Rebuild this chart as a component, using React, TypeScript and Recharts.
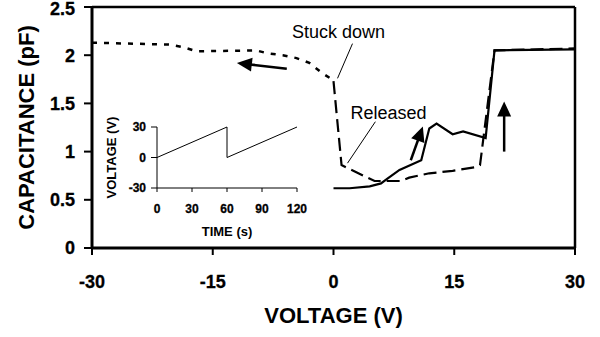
import React from "react";
import { LineChart, Line, XAxis, YAxis, ReferenceLine, ReferenceDot } from "recharts";

const font = "Arial, 'Liberation Sans', sans-serif";

// main plot: capacitance vs voltage
const voltTicks = [-30, -15, 0, 15, 30];
const capTicks = [0, 0.5, 1, 1.5, 2, 2.5];

// stuck down, sweeping back to -30 V (dotted)
const stuckV = [-30, -20.4, -18.5, -17, -9.6, -8.2, -6.3, -4.6, -3, -1.5, -0.4, 0];
const stuckC = [2.13, 2.11, 2.08, 2.04, 2.05, 2.02, 2.0, 1.97, 1.92, 1.82, 1.76, 1.73];

// released branch (dashed)
const releaseV = [0, 1, 5.1, 8.4, 9.4, 11.9, 14.8, 17.7, 18.2, 20, 30];
const releaseC = [1.73, 0.86, 0.695, 0.695, 0.73, 0.775, 0.8, 0.84, 0.86, 2.05, 2.07];

// up sweep (solid)
const sweepV = [0, 2, 4.5, 5.9, 6.7, 8.2, 10.9, 11.9, 12.8, 14.8, 16.1, 18.9, 20, 30];
const sweepC = [0.62, 0.62, 0.64, 0.67, 0.72, 0.81, 0.91, 1.24, 1.29, 1.18, 1.21, 1.14, 2.05, 2.06];

// inset: applied voltage ramp
const timeS = [0, 60, 60, 120];
const rampV = [0, 30, 0, 30];
const timeTicks = [0, 30, 60, 90, 120];
const rampTicks = [-30, -15, 0, 15, 30];

// annotations, in data units
const arrows = [
  { from: [-5.8, 1.86], to: [-12, 1.92] },
  { from: [9.6, 0.91], to: [11.1, 1.26] },
  { from: [21.2, 1.0], to: [21.2, 1.52] },
];
const notes = [
  { text: "Stuck down", at: [0.62, 2.18], leader: [[2.36, 2.12], [0.5, 1.76]] },
  { text: "Released", at: [6.83, 1.34], leader: [[5.2, 1.31], [1.74, 0.88]] },
];

const zip = (xs: number[], ys: number[]) => xs.map((v, i) => ({ v, c: ys[i] }));

const stuckData = zip(stuckV, stuckC);
const releaseData = zip(releaseV, releaseC);
const sweepData = zip(sweepV, sweepC);
const rampData = timeS.map((t, i) => ({ t, v: rampV[i] }));

function Arrow(p: any) {
  const { x1, y1, x2, y2 } = p;
  const dx = x2 - x1;
  const dy = y2 - y1;
  const len = Math.hypot(dx, dy) || 1;
  const ux = dx / len;
  const uy = dy / len;
  const head = 15;
  const half = 7;
  const bx = x2 - ux * head;
  const by = y2 - uy * head;
  return (
    <g>
      <line x1={x1} y1={y1} x2={bx + ux * 2} y2={by + uy * 2} stroke="#000" strokeWidth={2.5} />
      <polygon
        points={`${x2},${y2} ${bx - uy * half},${by + ux * half} ${bx + uy * half},${by - ux * half}`}
        fill="#000"
      />
    </g>
  );
}

const bottomTick = (size: number) => (p: any) => (
  <text x={p.x} y={p.y} dy="0.71em" textAnchor="middle" fontSize={size} fontWeight="bold"
    fontFamily={font} fill="#000" stroke="#000" strokeWidth={0.3}>
    {p.payload.value}
  </text>
);
const leftTick = (size: number) => (p: any) => (
  <text x={p.x} y={p.y} dy="0.36em" textAnchor="end" fontSize={size} fontWeight="bold"
    fontFamily={font} fill="#000" stroke="#000" strokeWidth={0.3}>
    {p.payload.value}
  </text>
);

const thick = { stroke: "#000", strokeWidth: 3 };
const tickMark = { stroke: "#000", strokeWidth: 2 };
const thin = { stroke: "#000", strokeWidth: 1 };

function Inset() {
  return (
    <LineChart width={210} height={135} data={rampData} margin={{ top: 17, right: 13, left: 0, bottom: 0 }}>
      <XAxis
        dataKey="t"
        type="number"
        domain={[0, 120]}
        ticks={timeTicks}
        tick={bottomTick(12)}
        tickSize={4}
        tickMargin={12}
        axisLine={thin}
        tickLine={thin}
        height={57}
        label={{
          content: (p: any) => {
            const vb = p.viewBox;
            return (
              <text x={vb.x + vb.width / 2} y={vb.y + vb.height - 9} textAnchor="middle"
                fontSize={13} fontWeight={700} fontFamily={font} fill="#000">
                TIME (s)
              </text>
            );
          },
        }}
      />
      <YAxis
        type="number"
        domain={[-30, 30]}
        ticks={rampTicks}
        tick={leftTick(12)}
        tickSize={6}
        tickMargin={5}
        axisLine={thin}
        tickLine={thin}
        width={57}
        label={{
          content: (p: any) => {
            const vb = p.viewBox;
            const cy = vb.y + vb.height / 2;
            return (
              <text x={11.5} y={cy} textAnchor="middle" dominantBaseline="central"
                transform={`rotate(-90, 11.5, ${cy})`}
                fontSize={13} fontWeight={700} fontFamily={font} fill="#000">
                VOLTAGE (V)
              </text>
            );
          },
        }}
      />
      <Line dataKey="v" type="linear" stroke="#000" strokeWidth={1} dot={false} isAnimationActive={false} />
    </LineChart>
  );
}

export default function App() {
  return (
    <div style={{ position: "absolute", left: 0, top: 0, width: 600, height: 337, background: "#fff" }}>
      <LineChart width={600} height={337} margin={{ top: 7, right: 25, left: 0, bottom: 0 }}>
        <XAxis
          dataKey="v"
          type="number"
          domain={[-30, 30]}
          ticks={voltTicks}
          tick={bottomTick(18)}
          tickSize={7}
          tickMargin={20}
          stroke="#000"
          strokeWidth={3}
          axisLine={thick}
          tickLine={tickMark}
          height={89}
          label={{
            content: (p: any) => {
              const vb = p.viewBox;
              return (
                <text x={vb.x + vb.width / 2} y={vb.y + vb.height - 14} textAnchor="middle"
                  fontSize={22} fontWeight={700} fontFamily={font} fill="#000">
                  VOLTAGE (V)
                </text>
              );
            },
          }}
        />
        <YAxis
          type="number"
          domain={[0, 2.5]}
          ticks={capTicks}
          tick={leftTick(18)}
          tickSize={8}
          tickMargin={9}
          stroke="#000"
          strokeWidth={3}
          axisLine={thick}
          tickLine={tickMark}
          width={92}
          label={{
            content: (p: any) => {
              const vb = p.viewBox;
              const cy = vb.y + vb.height / 2;
              return (
                <text x={26} y={cy} textAnchor="middle" dominantBaseline="central"
                  transform={`rotate(-90, 26, ${cy})`}
                  fontSize={22} fontWeight={700} fontFamily={font} fill="#000">
                  CAPACITANCE (pF)
                </text>
              );
            },
          }}
        />
        <ReferenceLine y={2.5} stroke="#000" strokeWidth={2.5} />
        <ReferenceLine x={30} stroke="#000" strokeWidth={2.5} />

        <Line data={stuckData} dataKey="c" type="linear" stroke="#000" strokeWidth={2.5}
          strokeDasharray="5 7" dot={false} isAnimationActive={false} />
        <Line data={releaseData} dataKey="c" type="linear" stroke="#000" strokeWidth={2.2}
          strokeDasharray="13 6" dot={false} isAnimationActive={false} />
        <Line data={sweepData} dataKey="c" type="linear" stroke="#000" strokeWidth={2.2}
          dot={false} isAnimationActive={false} />

        {arrows.map((a, i) => (
          <ReferenceLine key={`a${i}`}
            segment={[{ x: a.from[0], y: a.from[1] }, { x: a.to[0], y: a.to[1] }]}
            shape={Arrow} />
        ))}
        {notes.map((n, i) => (
          <ReferenceLine key={`l${i}`}
            segment={[{ x: n.leader[0][0], y: n.leader[0][1] }, { x: n.leader[1][0], y: n.leader[1][1] }]}
            stroke="#000" strokeWidth={1} />
        ))}
        {notes.map((n, i) => (
          <ReferenceDot key={`n${i}`} x={n.at[0]} y={n.at[1]}
            shape={(p: any) => (
              <text x={p.cx} y={p.cy} textAnchor="middle" fontSize={18} fontFamily={font} fill="#000">
                {n.text}
              </text>
            )} />
        ))}
      </LineChart>
      <div style={{ position: "absolute", left: 100, top: 110 }}>
        <Inset />
      </div>
    </div>
  );
}
